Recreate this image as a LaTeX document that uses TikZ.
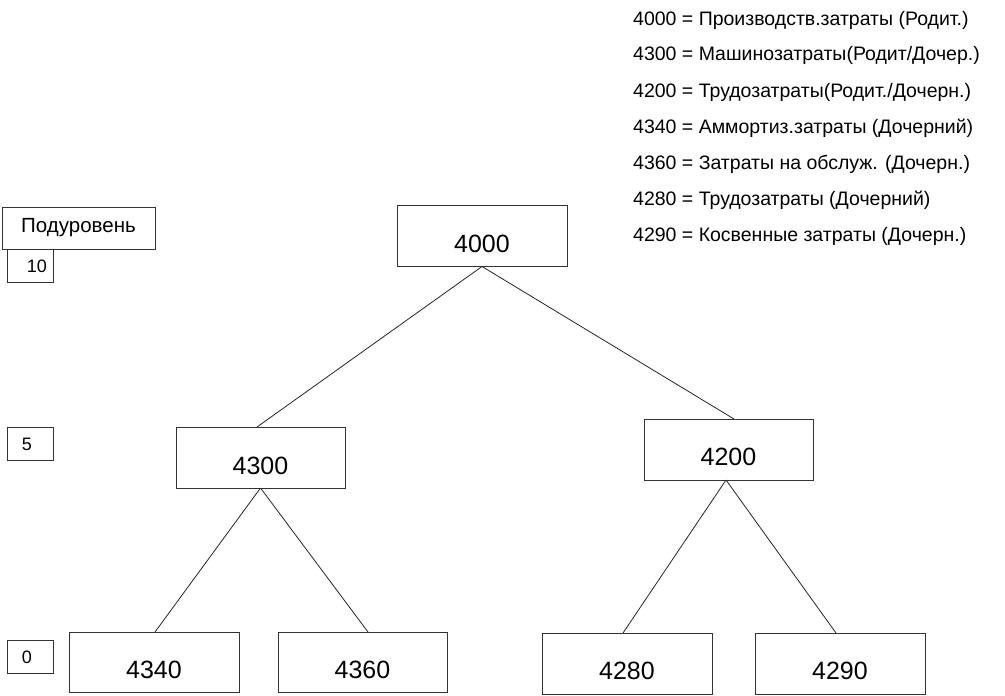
\documentclass[tikz,border=0pt]{standalone}
\usepackage{fontspec}
\setmainfont{Liberation Sans}
\begin{document}
\begin{tikzpicture}[x=1pt,y=-1pt,
  box/.style={draw=black!80,line width=1pt,minimum width=170pt,minimum height=61pt,inner sep=0pt,outer sep=0pt},
  numlbl/.style={font=\fontsize{25}{29}\selectfont},
  lvl/.style={draw=black!80,line width=1pt,minimum width=46pt,minimum height=33pt,inner sep=0pt,outer sep=0pt},
  lvltxt/.style={font=\fontsize{18}{22}\selectfont},
  legend/.style={font=\fontsize{19.5}{24}\selectfont,anchor=base west,inner sep=0pt},
  conn/.style={draw=black!85,line width=0.8pt}]
\useasboundingbox (0,0) rectangle (1005,696);
% tree nodes
\node[box,label={[numlbl,yshift=-8pt]center:4000}] (n4000) at (482,236) {};
\node[box,minimum width=169pt,label={[numlbl,yshift=-8.5pt]center:4300}] (n4300) at (260.5,457.5) {};
\node[box,minimum width=169pt,label={[numlbl,yshift=-7.5pt]center:4200}] (n4200) at (728.5,449.5) {};
\node[box,minimum height=60pt,label={[numlbl,yshift=-8pt]center:4340}] (n4340) at (154,662) {};
\node[box,minimum width=169pt,minimum height=60pt,label={[numlbl,yshift=-8pt]center:4360}] (n4360) at (362.5,662) {};
\node[box,label={[numlbl,yshift=-7.5pt]center:4280}] (n4280) at (627,663.5) {};
\node[box,label={[numlbl,yshift=-7.5pt]center:4290}] (n4290) at (840,663.5) {};
% level indicator
\node[draw=black!80,line width=1pt,minimum width=153pt,minimum height=42pt,inner sep=0pt,font=\fontsize{20.5}{24}\selectfont] (sub) at (78.5,228) {Подуровень};
\node[lvl] (l10) at (30,265.5) {};
\node[lvltxt] (t10) at (37,266) {10};
\node[lvl] (l5) at (30,444) {};
\node[lvltxt] (t5) at (27,444) {5};
\node[lvl] (l0) at (30,657) {};
\node[lvltxt] (t0) at (27,657) {0};
% connectors
\draw[conn] (n4000.south) -- ([xshift=-3.5pt]n4300.north);
\draw[conn] (n4000.south) -- ([xshift=5.5pt]n4200.north);
\draw[conn] (n4300.south) -- ([xshift=1pt]n4340.north);
\draw[conn] (n4300.south) -- ([xshift=5.5pt]n4360.north);
\draw[conn] ([xshift=-2.5pt]n4200.south) -- ([xshift=-4pt]n4280.north);
\draw[conn] ([xshift=-2.5pt]n4200.south) -- ([xshift=-4pt]n4290.north);
% legend
\node[legend] (g1) at (633,25) {4000 = Производств.затраты (Родит.)};
\node[legend] (g2) at (633,60) {4300 = Машинозатраты(Родит/Дочер.)};
\node[legend] (g3) at (633,97) {4200 = Трудозатраты(Родит./Дочерн.)};
\node[legend] (g4) at (633,133) {4340 = Аммортиз.затраты (Дочерний)};
\node[legend] (g5) at (633,169) {4360 = Затраты на обслуж. (Дочерн.)};
\node[legend] (g6) at (633,205) {4280 = Трудозатраты (Дочерний)};
\node[legend] (g7) at (633,241) {4290 = Косвенные затраты (Дочерн.)};
\end{tikzpicture}
\end{document}
